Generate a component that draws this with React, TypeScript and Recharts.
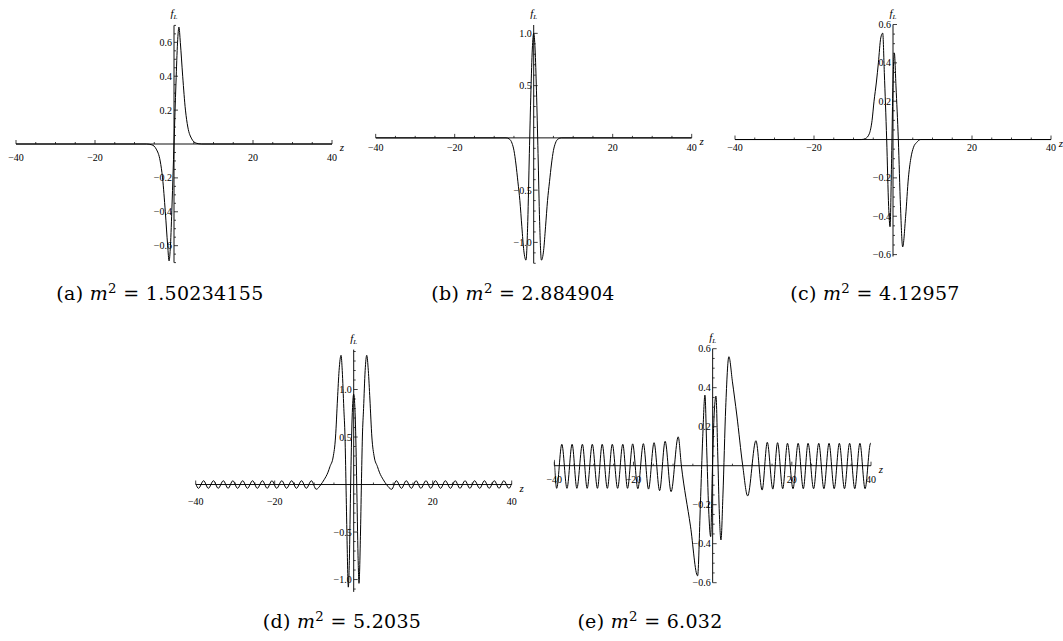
import React from 'react'
import { LineChart, Line, XAxis, YAxis, ReferenceLine, ReferenceDot } from 'recharts'

// x ticks shared by all five plots
const X_MAJOR = [-40, -20, 20, 40]
const X_MINOR = [-35, -30, -25, -15, -10, -5, 5, 10, 15, 25, 30, 35]

// y ticks
const Y_MAJOR_02 = [-0.6, -0.4, -0.2, 0.2, 0.4, 0.6]
const Y_MINOR_A = [-0.7, -0.65, -0.55, -0.5, -0.45, -0.35, -0.3, -0.25, -0.15, -0.1, -0.05, 0.05, 0.1, 0.15, 0.25, 0.3, 0.35, 0.45, 0.5, 0.55, 0.65, 0.7]
const Y_MINOR_CE = [-0.55, -0.5, -0.45, -0.35, -0.3, -0.25, -0.15, -0.1, -0.05, 0.05, 0.1, 0.15, 0.25, 0.3, 0.35, 0.45, 0.5, 0.55]
const Y_MAJOR_05 = [-1.0, -0.5, 0.5, 1.0]
const Y_MINOR_B = [-1.2, -1.1, -0.9, -0.8, -0.7, -0.6, -0.4, -0.3, -0.2, -0.1, 0.1, 0.2, 0.3, 0.4, 0.6, 0.7, 0.8, 0.9]
const Y_MINOR_D = [-1.1, -0.9, -0.8, -0.7, -0.6, -0.4, -0.3, -0.2, -0.1, 0.1, 0.2, 0.3, 0.4, 0.6, 0.7, 0.8, 0.9, 1.1, 1.2, 1.3, 1.4]

// f_L(z), as [z, f]
const curveA: [number, number][] = [
  [-40, 0], [-7, 0], [-5.6, -0.005], [-4.5, -0.03], [-3.5, -0.1], [-2.9, -0.2], [-2.2, -0.4],
  [-1.6, -0.6], [-1.25, -0.69], [-0.9, -0.6], [-0.5, -0.36], [0, 0], [0.5, 0.36], [0.9, 0.6],
  [1.25, 0.69], [1.6, 0.6], [2.2, 0.4], [2.9, 0.2], [3.5, 0.1], [4.5, 0.03], [5.6, 0.005], [7, 0], [40, 0],
]

const curveB: [number, number][] = [
  [-40, 0], [-7, 0], [-6.2, -0.01], [-5.5, -0.05], [-5, -0.12], [-4.5, -0.25], [-4, -0.42],
  [-3.5, -0.6], [-3, -0.85], [-2.5, -1.08], [-1.95, -1.17], [-1.5, -0.8], [-1.1, -0.15],
  [-0.7, 0.45], [-0.35, 0.85], [0, 1.0], [0.35, 0.85], [0.7, 0.45], [1.1, -0.15], [1.5, -0.8],
  [1.95, -1.17], [2.5, -1.08], [3, -0.85], [3.5, -0.6], [4, -0.42], [4.5, -0.25], [5, -0.12],
  [5.5, -0.05], [6.2, -0.01], [7, 0], [40, 0],
]

const curveC: [number, number][] = [
  [-40, 0], [-8, 0], [-7, 0.005], [-6, 0.03], [-5.3, 0.1], [-4.8, 0.2], [-4.2, 0.3], [-3.7, 0.4],
  [-3.1, 0.53], [-2.6, 0.555], [-2.2, 0.35], [-1.6, 0], [-1.1, -0.35], [-0.75, -0.455],
  [-0.35, -0.1], [-0.05, 0.25], [0.35, 0.45], [0.75, 0.28], [1.35, 0], [1.9, -0.35],
  [2.45, -0.56], [3.2, -0.4], [3.9, -0.2], [4.5, -0.1], [5.2, -0.04], [6, -0.015], [7, 0], [40, 0],
]

const curveD: [number, number][] = [
  [-40, 0.01], [-39.3, -0.04], [-38.0, 0.04], [-36.8, -0.04], [-35.5, 0.04], [-34.3, -0.04],
  [-33.0, 0.04], [-31.8, -0.04], [-30.6, 0.04], [-29.4, -0.04], [-28.1, 0.04], [-26.9, -0.04],
  [-25.6, 0.04], [-24.4, -0.04], [-23.1, 0.04], [-21.9, -0.04], [-20.7, 0.04], [-19.5, -0.04],
  [-18.2, 0.04], [-17.0, -0.04], [-15.7, 0.04], [-14.5, -0.04], [-13.2, 0.04], [-12.0, -0.04],
  [-10.7, 0.04], [-9.5, -0.05],
  [-8.3, 0], [-7.5, 0.05], [-6.5, 0.13], [-6.0, 0.19], [-5.2, 0.29], [-4.6, 0.5], [-4.1, 0.9],
  [-3.7, 1.2], [-3.2, 1.36], [-2.9, 1.2], [-2.5, 0.8], [-2.2, 0.5], [-1.95, 0], [-1.7, -0.55],
  [-1.36, -1.08], [-1.1, -0.8], [-0.77, 0], [-0.4, 0.7], [0, 0.95], [0.4, 0.7], [0.77, 0],
  [1.1, -0.75], [1.34, -1.04], [1.7, -0.55], [1.95, 0], [2.2, 0.5], [2.5, 0.8], [2.9, 1.2],
  [3.3, 1.36], [3.7, 1.2], [4.1, 0.9], [4.6, 0.5], [5.2, 0.29], [6.0, 0.19], [6.5, 0.13],
  [7.5, 0.05], [8.3, 0],
  [9.6, -0.05], [10.8, 0.04], [12.1, -0.04], [13.3, 0.04], [14.6, -0.04], [15.8, 0.04],
  [17.0, -0.04], [18.3, 0.04], [19.5, -0.04], [20.7, 0.04], [22.0, -0.04], [23.2, 0.04],
  [24.5, -0.04], [25.7, 0.04], [26.9, -0.04], [28.2, 0.04], [29.4, -0.04], [30.6, 0.04],
  [31.9, -0.04], [33.1, 0.04], [34.3, -0.04], [35.6, 0.04], [36.8, -0.04], [38.0, 0.04],
  [39.3, -0.04], [40, 0.01],
]

const curveE: [number, number][] = [
  [-40, 0.03], [-39.4, -0.116], [-38.1, 0.11], [-36.8, -0.116], [-35.5, 0.11], [-34.3, -0.116],
  [-32.9, 0.11], [-31.7, -0.116], [-30.4, 0.11], [-29.1, -0.116], [-27.9, 0.11], [-26.6, -0.116],
  [-25.35, 0.11], [-24.0, -0.116], [-22.7, 0.11], [-21.5, -0.116], [-20.2, 0.112], [-18.9, -0.118],
  [-17.5, 0.113], [-16.2, -0.12], [-14.8, 0.118], [-13.4, -0.128], [-12.0, 0.125], [-10.5, -0.133],
  [-8.7, 0.148], [-7.9, 0], [-5.6, -0.31], [-3.8, -0.565], [-3.1, -0.2], [-2.5, 0.15],
  [-1.95, 0.362], [-1.45, 0.05], [-0.95, -0.25], [-0.5, -0.364], [-0.1, -0.05], [0.35, 0.25],
  [0.84, 0.357], [1.3, 0.05], [1.7, -0.25], [2.1, -0.381], [2.6, -0.15], [3.3, 0.3], [4.1, 0.559],
  [5.0, 0.43], [6.1, 0.26], [7.6, 0], [8.84, -0.155], [10.93, 0.128], [12.5, -0.125], [13.8, 0.12],
  [15.2, -0.12], [16.4, 0.118], [17.7, -0.118], [18.9, 0.115], [20.3, -0.118], [21.6, 0.115],
  [22.9, -0.118], [24.1, 0.115], [25.5, -0.118], [26.8, 0.115], [28.1, -0.118], [29.4, 0.115],
  [30.7, -0.118], [32.0, 0.115], [33.3, -0.118], [34.6, 0.115], [35.9, -0.118], [37.2, 0.115],
  [38.5, -0.118], [39.9, 0.115], [40, 0.114],
]

const captionTags = ['a', 'b', 'c', 'd', 'e']
const captionValues = ['1.50234155', '2.884904', '4.12957', '5.2035', '6.032']

const AXIS = '#111'
const TICK_FONT = '"Liberation Serif", "Times New Roman", serif'
const CAPTION_FONT = '"DejaVu Serif", "Liberation Serif", serif'

const fmtX = (v: number) => (v < 0 ? '\u2212' : '') + Math.abs(v)
const fmtY = (v: number) => (v < 0 ? '\u2212' : '') + Math.abs(v).toFixed(1)

const xTick = (len: number, label: string | null, dy: number) => (p: any) => (
  <g>
    <line x1={p.cx} y1={p.cy} x2={p.cx} y2={p.cy - len} stroke={AXIS} strokeWidth={0.8} />
    {label && (
      <text x={p.cx} y={p.cy + dy} textAnchor="middle" dominantBaseline="central"
        fontFamily={TICK_FONT} fontSize={10} fill="#000">{label}</text>
    )}
  </g>
)

const yTick = (len: number, label: string | null) => (p: any) => (
  <g>
    <line x1={p.cx} y1={p.cy} x2={p.cx + len} y2={p.cy} stroke={AXIS} strokeWidth={0.8} />
    {label && (
      <text x={p.cx - 2} y={p.cy} textAnchor="end" dominantBaseline="central"
        fontFamily={TICK_FONT} fontSize={10} fill="#000">{label}</text>
    )}
  </g>
)

type PanelProps = {
  left: number; top: number; width: number; height: number
  margin: { top: number; right: number; bottom: number; left: number }
  curve: [number, number][]
  yDomain: [number, number]
  yMajor: number[]; yMinor: number[]
  xLabelDy: number
}

function Panel({ left, top, width, height, margin, curve, yDomain, yMajor, yMinor, xLabelDy }: PanelProps) {
  const data = curve.map(([z, f]) => ({ z, f }))
  return (
    <div style={{ position: 'absolute', left, top }}>
      <LineChart width={width} height={height} data={data} margin={margin}>
        <XAxis type="number" dataKey="z" domain={[-40, 40]} hide allowDataOverflow />
        <YAxis type="number" domain={yDomain} hide allowDataOverflow />
        <ReferenceLine y={0} stroke={AXIS} strokeWidth={1} />
        <ReferenceLine x={0} stroke={AXIS} strokeWidth={1} />
        {X_MINOR.map((t) => <ReferenceDot key={'xm' + t} x={t} y={0} shape={xTick(2, null, xLabelDy)} />)}
        {X_MAJOR.map((t) => <ReferenceDot key={'xM' + t} x={t} y={0} shape={xTick(4, fmtX(t), xLabelDy)} />)}
        {yMinor.map((t) => <ReferenceDot key={'ym' + t} x={0} y={t} shape={yTick(2, null)} />)}
        {yMajor.map((t) => <ReferenceDot key={'yM' + t} x={0} y={t} shape={yTick(4, fmtY(t))} />)}
        <ReferenceDot x={0} y={yDomain[1]} shape={(p: any) => (
          <text x={p.cx} y={p.cy - 8} textAnchor="middle" fontFamily={TICK_FONT} fontSize={11} fontStyle="italic">
            f<tspan fontSize={7} dy={2}>L</tspan>
          </text>
        )} />
        <ReferenceDot x={40} y={0} shape={(p: any) => (
          <text x={p.cx + 10} y={p.cy + 3} textAnchor="middle" dominantBaseline="central"
            fontFamily={TICK_FONT} fontSize={11} fontStyle="italic">z</text>
        )} />
        <Line dataKey="f" type="monotone" dot={false} stroke="#000" strokeWidth={1} isAnimationActive={false} />
      </LineChart>
    </div>
  )
}

function Caption({ cx, cy, i }: { cx: number; cy: number; i: number }) {
  return (
    <div style={{
      position: 'absolute', left: cx - 160, top: cy - 13, width: 320, height: 26, lineHeight: '26px',
      textAlign: 'center', fontFamily: CAPTION_FONT, fontSize: 19, letterSpacing: 0.3, whiteSpace: 'nowrap',
    }}>
      ({captionTags[i]}) <i>m</i>
      <span style={{ fontSize: '0.7em', position: 'relative', top: '-0.5em' }}>2</span>
      {' = '}{captionValues[i]}
    </div>
  )
}

export default function App() {
  return (
    <div style={{ position: 'absolute', left: 0, top: 0, width: 1063, height: 641, background: '#fff', overflow: 'hidden' }}>
      <Panel left={0} top={0} width={350} height={280}
        margin={{ top: 25.4, right: 18, bottom: 17.4, left: 16 }}
        curve={curveA} yDomain={[-0.7, 0.7]} yMajor={Y_MAJOR_02} yMinor={Y_MINOR_A} xLabelDy={13} />
      <Panel left={350} top={0} width={360} height={280}
        margin={{ top: 25, right: 18.3, bottom: 16.7, left: 25.7 }}
        curve={curveB} yDomain={[-1.2, 1.08]} yMajor={Y_MAJOR_05} yMinor={Y_MINOR_B} xLabelDy={10} />
      <Panel left={700} top={0} width={363} height={280}
        margin={{ top: 24.5, right: 12, bottom: 23.5, left: 35 }}
        curve={curveC} yDomain={[-0.61, 0.6]} yMajor={Y_MAJOR_02} yMinor={Y_MINOR_CE} xLabelDy={8} />
      <Panel left={180} top={310} width={352} height={300}
        margin={{ top: 39.6, right: 20.3, bottom: 18.1, left: 15.7 }}
        curve={curveD} yDomain={[-1.13, 1.42]} yMajor={Y_MAJOR_05} yMinor={Y_MINOR_D} xLabelDy={17} />
      <Panel left={520} top={310} width={372} height={300}
        margin={{ top: 38.7, right: 21, bottom: 27.3, left: 34.3 }}
        curve={curveE} yDomain={[-0.6, 0.6]} yMajor={Y_MAJOR_02} yMinor={Y_MINOR_CE} xLabelDy={14} />
      <Caption cx={160} cy={293} i={0} />
      <Caption cx={523} cy={293} i={1} />
      <Caption cx={875} cy={293} i={2} />
      <Caption cx={342} cy={621} i={3} />
      <Caption cx={650} cy={621} i={4} />
    </div>
  )
}
